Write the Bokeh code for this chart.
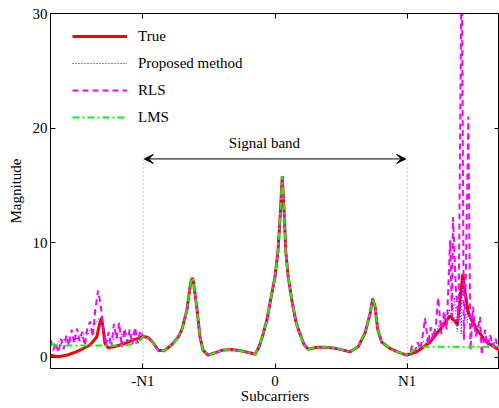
from bokeh.plotting import figure
from bokeh.models import Range1d, FixedTicker, LinearAxis, Arrow, VeeHead, Label
from bokeh.embed import file_html
from bokeh.resources import INLINE

N1 = 100
x_ticks = [-N1, 0, N1]
x_tick_labels = {-N1: "-N1", 0: "0", N1: "N1"}
y_ticks = [0, 10, 20, 30]

# True channel magnitude
true_x = [-170, -164, -158, -153, -146, -140, -135, -132.6, -131.3, -130, -128.8, -126.3, -122, -117.4,
          -112, -107.5, -103, -99.8, -96, -92, -88.4, -84, -80, -77.3, -73.5, -70.5, -66.7, -63.9,
          -62.7, -61.9, -59.3, -56.8, -54.5, -50.8, -46, -40, -33, -26, -20, -15, -12, -9, -6, -3.3,
          0, 2.3, 4, 5.5, 7, 8.1, 10, 12.7, 16, 19, 22, 25.2, 31.6, 38, 44, 50, 56.8, 63, 68.2, 72,
          74, 75.8, 77.8, 80.8, 87.1, 93, 99.7, 107.3, 117.4, 126.3, 132.6, 136.4, 138.1, 140.2,
          142.2, 144, 146.5, 152.8, 160.4, 170]
true_y = [0.17, 0.03, 0.15, 0.35, 0.7, 1.05, 1.75, 3.0, 3.4, 2.4, 1.2, 0.8, 0.9, 1.05,
          1.25, 1.5, 1.65, 1.8, 1.7, 1.2, 0.6, 0.55, 0.9, 1.2, 1.7, 2.4, 4.1, 6.5,
          6.9, 6.7, 4.4, 1.75, 0.6, 0.17, 0.35, 0.6, 0.65, 0.55, 0.4, 0.25, 0.9, 2.0, 3.3, 5.0,
          7.0, 9.3, 12.5, 15.8, 12.5, 9.3, 7.0, 5.0, 3.0, 2.0, 1.1, 0.67, 0.85, 0.85, 0.8, 0.65, 0.46, 0.9, 2.1, 3.8,
          5.1, 4.4, 2.4, 1.3, 0.75, 0.45, 0.17, 0.46, 1.3, 2.6, 3.6, 3.1, 2.8, 5.0,
          7.25, 5.6, 3.8, 2.4, 1.3, 0.6]

# Estimates outside the signal band (left and right edges)
left_x = [-170, -168, -166, -164, -162, -160, -158, -156, -154, -152, -150, -148, -146, -144, -142,
          -140, -138, -136, -134, -132, -130, -128, -126, -124, -122, -120, -118, -116, -114, -112,
          -110, -108, -106, -104, -102]
right_x = [102, 104, 106, 108, 110, 112, 114, 116, 118, 120, 122, 124, 126, 128, 130, 132, 134, 136,
           138, 140, 141, 142, 144, 145.5, 147, 149, 151, 153, 155, 157, 159, 161, 163, 165, 167, 169, 170]

prop_left = [1.0, 1.3, 0.9, 1.4, 1.1, 1.6, 1.2, 1.8, 1.4, 1.9, 1.5, 2.0, 1.6, 2.2, 1.9,
             2.4, 2.6, 2.9, 3.3, 3.4, 2.6, 1.6, 1.4, 1.8, 1.5, 1.9, 1.6, 2.0, 1.7, 2.1,
             1.8, 2.0, 1.9, 2.1, 1.9]
prop_right = [0.4, 0.7, 0.6, 1.0, 0.9, 1.4, 1.2, 1.8, 1.6, 2.2, 2.0, 2.8, 2.4, 3.4, 3.0, 4.2, 3.0, 5.2,
              2.2, 6.0, 2.0, 6.8, 6.2, 3.0, 4.0, 2.6, 3.4, 2.0, 2.8, 1.5, 2.3, 1.2, 1.9, 1.0, 1.5, 0.8, 1.1]

rls_left = [1.5, 0.6, 1.2, 0.4, 1.6, 0.7, 1.9, 1.0, 2.4, 1.2, 2.5, 1.4, 2.2, 1.0, 2.6,
            3.1, 1.8, 4.2, 5.8, 4.6, 2.4, 1.0, 2.2, 0.8, 2.9, 1.6, 3.0, 0.9, 2.5, 1.3,
            2.4, 1.1, 2.6, 1.2, 2.3]
rls_right_x = [102, 104, 106, 108, 110, 112, 113.6, 116, 118, 120, 122, 123.5, 126, 128, 130, 132.6,
               134, 134.8, 137, 139, 141.4, 143, 144.5, 146.4, 148, 150, 152, 154, 155.3, 156.5,
               159, 161, 163, 165, 167, 169, 170]
rls_right = [0.4, 1.0, 0.5, 1.3, 0.7, 2.0, 3.4, 1.1, 2.6, 1.6, 3.0, 5.2, 2.0, 4.0, 2.4, 10.2,
             3.5, 12.2, 5.9, 3.0, 36.0, 1.5, 7.0, 21.0, 0.6, 4.4, 1.8, 2.8, 3.5, 0.2,
             2.4, 1.0, 1.9, 0.9, 1.6, 0.7, 1.2]

lms_left = [1.1, 1.1, 1.05, 1.05, 1.0, 1.0, 1.0, 1.0, 1.0, 1.0, 1.0, 1.0, 1.0, 1.0, 1.0,
            1.0, 1.0, 1.0, 1.0, 1.0, 1.0, 1.0, 1.0, 1.0, 1.0, 1.0, 1.0, 1.0, 1.0, 1.05,
            1.1, 1.1, 1.2, 1.3, 1.5]
lms_right = [0.3, 0.5, 0.7, 0.85, 0.9, 0.9, 0.9, 0.9, 0.9, 0.9, 0.9, 0.9, 0.9, 0.9, 0.9, 0.9, 0.9, 0.9,
             0.9, 0.9, 0.9, 0.9, 0.9, 0.9, 0.9, 0.9, 0.9, 0.9, 0.9, 0.9, 0.9, 0.9, 0.9, 0.9, 0.9, 0.9, 0.9]

band_x = [x for x in true_x if -N1 <= x <= N1]
band_y = [y for x, y in zip(true_x, true_y) if -N1 <= x <= N1]

band_lo, band_hi, arrow_y, band_text_y = -N1, N1, 17.3, 18.7

FONT = "Liberation Serif"

p = figure(width=499, height=408, output_backend="svg", toolbar_location=None,
           x_range=Range1d(-170, 170), y_range=Range1d(-1, 30),
           min_border_left=50, min_border_right=0, min_border_top=13, min_border_bottom=40)
p.background_fill_color = "white"
p.border_fill_color = "white"
p.outline_line_color = "black"
p.outline_line_width = 1
p.grid.visible = False

def style_axis(ax, labels=True):
    ax.axis_line_color = "black"
    ax.major_tick_in = 5
    ax.major_tick_out = 0
    ax.minor_tick_line_color = None
    ax.major_tick_line_color = "black"
    ax.major_label_text_font = FONT
    ax.major_label_text_font_size = "15px"
    ax.major_label_text_color = "black"
    ax.axis_label_text_font = FONT
    ax.axis_label_text_font_size = "15px"
    ax.axis_label_text_font_style = "normal"
    ax.axis_label_text_color = "black"
    if not labels:
        ax.major_label_text_font_size = "0px"
        ax.major_label_text_color = None
        ax.major_label_standoff = 0

xa = p.xaxis[0]
xa.ticker = FixedTicker(ticks=x_ticks)
xa.major_label_overrides = x_tick_labels
style_axis(xa)
xa.axis_label = "Subcarriers"
xa.major_label_standoff = 4
xa.axis_label_standoff = -4

ya = p.yaxis[0]
ya.ticker = FixedTicker(ticks=y_ticks)
style_axis(ya)
ya.axis_label = "Magnitude"
ya.major_label_standoff = 3
ya.axis_label_standoff = 6

top = LinearAxis(ticker=FixedTicker(ticks=x_ticks))
style_axis(top, labels=False)
p.add_layout(top, "above")
right = LinearAxis(ticker=FixedTicker(ticks=y_ticks))
style_axis(right, labels=False)
p.add_layout(right, "right")

p.line(true_x, true_y, line_color="#ff0000", line_width=3, legend_label="True")
p.line(left_x + band_x + right_x, prop_left + band_y + prop_right, line_color="#0000ff",
       line_width=1, line_dash="1 2", legend_label="Proposed method")
p.line(left_x + band_x + rls_right_x, rls_left + band_y + rls_right, line_color="#ff00ff",
       line_width=2, line_dash="6 4", legend_label="RLS")
p.line(left_x + band_x + right_x, lms_left + band_y + lms_right, line_color="#00ff00",
       line_width=2, line_dash="7 3 2 3", legend_label="LMS")

# band markers
p.segment(x0=[band_lo, band_hi], y0=[-1, -1], x1=[band_lo, band_hi], y1=[arrow_y, arrow_y],
          line_color="#4040ff", line_width=1, line_dash="1 3", line_alpha=0.7)
p.add_layout(Arrow(x_start=band_lo + 1, y_start=arrow_y, x_end=band_hi - 1, y_end=arrow_y,
                   line_color="black", line_width=1,
                   start=VeeHead(size=9, fill_color="black", line_color="black"),
                   end=VeeHead(size=9, fill_color="black", line_color="black")))
p.add_layout(Label(x=-8, y=band_text_y, text="Signal band", text_align="center",
                   text_baseline="middle", text_font=FONT, text_font_size="15px", text_color="black"))

lg = p.legend[0]
lg.location = (22, 239)
lg.border_line_color = None
lg.background_fill_alpha = 0
lg.padding = 0
lg.margin = 0
lg.spacing = 3
lg.glyph_width = 55
lg.glyph_height = 24
lg.label_height = 24
lg.label_standoff = 11
lg.label_text_font = FONT
lg.label_text_font_size = "15px"
lg.label_text_color = "black"

open("out.html", "w").write(file_html(p, INLINE))
